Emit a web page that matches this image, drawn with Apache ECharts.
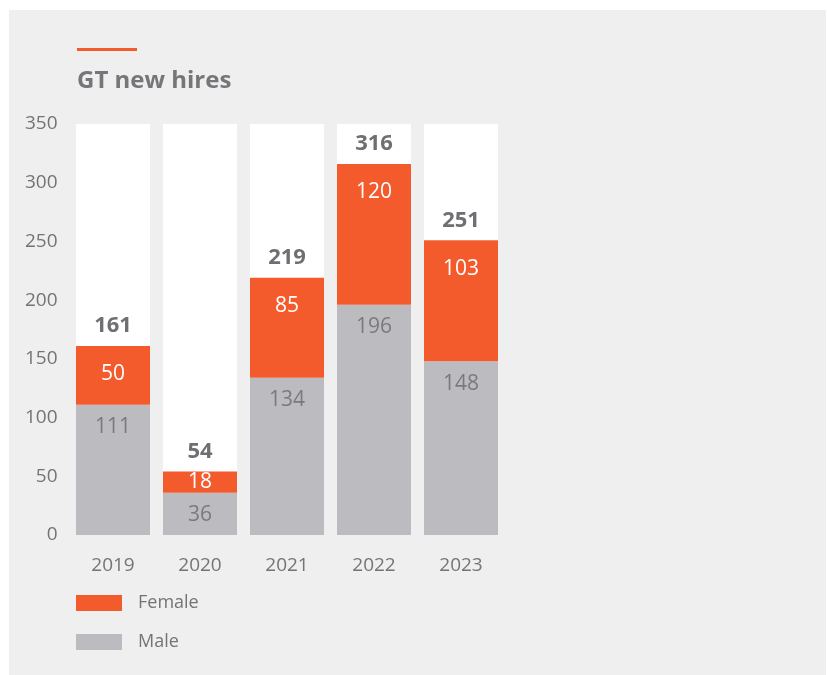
<!DOCTYPE html>
<html>
<head>
<meta charset="utf-8">
<script src="https://cdn.jsdelivr.net/npm/echarts@6/dist/echarts.min.js"></script>
<style>
html,body{margin:0;padding:0;background:#fff;}
#c{width:827px;height:675px;}
</style>
</head>
<body>
<div id="c"></div>
<script>
var years = ['2019', '2020', '2021', '2022', '2023'];
var male = [111, 36, 134, 196, 148];
var female = [50, 18, 85, 120, 103];
var totals = [161, 54, 219, 316, 251];
var yTicks = [0, 50, 100, 150, 200, 250, 300, 350];

var ORANGE = '#f35b2d';
var GREY = '#bcbbc0';
var TEXT = '#747478';
var FONT = '"Open Sans", "Noto Sans", sans-serif';

var chart = echarts.init(document.getElementById('c'));

var femaleData = female.map(function (v, i) {
  var d = { value: v };
  if (v < 30) {
    d.label = { position: 'inside', distance: 0 };
  }
  return d;
});

chart.setOption({
  backgroundColor: '#ffffff',
  animation: false,
  textStyle: { fontFamily: FONT },
  graphic: [
    { type: 'rect', z: -10, shape: { x: 9, y: 10, width: 817, height: 665 }, style: { fill: '#efefef' } },
    { type: 'rect', shape: { x: 77, y: 48, width: 60, height: 3 }, style: { fill: ORANGE } },
    { type: 'text', left: 77, top: 69, style: { text: 'GT new hires', fill: '#76767a', font: 'bold 24px ' + FONT } }
  ],
  legend: {
    data: ['Female', 'Male'],
    orient: 'vertical',
    left: 71,
    top: 589,
    itemWidth: 46,
    itemHeight: 16,
    itemGap: 21,
    icon: 'rect',
    textStyle: { color: TEXT, fontSize: 18, fontFamily: FONT, padding: [0, 0, 0, 11] }
  },
  grid: { left: 69.5, right: 322.5, top: 124, bottom: 140 },
  xAxis: {
    type: 'category',
    data: years,
    axisLine: { show: false },
    axisTick: { show: false },
    axisLabel: { color: TEXT, fontSize: 19, margin: 21, fontFamily: FONT }
  },
  yAxis: {
    type: 'value',
    min: yTicks[0],
    max: yTicks[yTicks.length - 1],
    interval: 50,
    splitLine: { show: false },
    axisLine: { show: false },
    axisTick: { show: false },
    axisLabel: { color: TEXT, fontSize: 19, margin: 12, fontFamily: FONT }
  },
  series: [
    {
      name: 'Male',
      type: 'bar',
      stack: 'a',
      barWidth: 74,
      data: male,
      itemStyle: { color: GREY },
      showBackground: true,
      backgroundStyle: { color: '#ffffff' },
      label: { show: true, position: 'insideTop', distance: 12, color: '#7a7a7e', fontSize: 21, fontFamily: FONT }
    },
    {
      name: 'Female',
      type: 'bar',
      stack: 'a',
      barWidth: 74,
      data: femaleData,
      itemStyle: { color: ORANGE },
      label: { show: true, position: 'insideTop', distance: 18, color: '#ffffff', fontSize: 21, fontFamily: FONT }
    },
    {
      name: 'Total',
      type: 'bar',
      barWidth: 74,
      barGap: '-100%',
      z: 5,
      silent: true,
      data: totals,
      itemStyle: { color: 'rgba(0,0,0,0)' },
      label: { show: true, position: 'top', distance: 9, color: '#6f6f73', fontSize: 22, fontWeight: 'bold', fontFamily: FONT }
    }
  ]
});
</script>
</body>
</html>
